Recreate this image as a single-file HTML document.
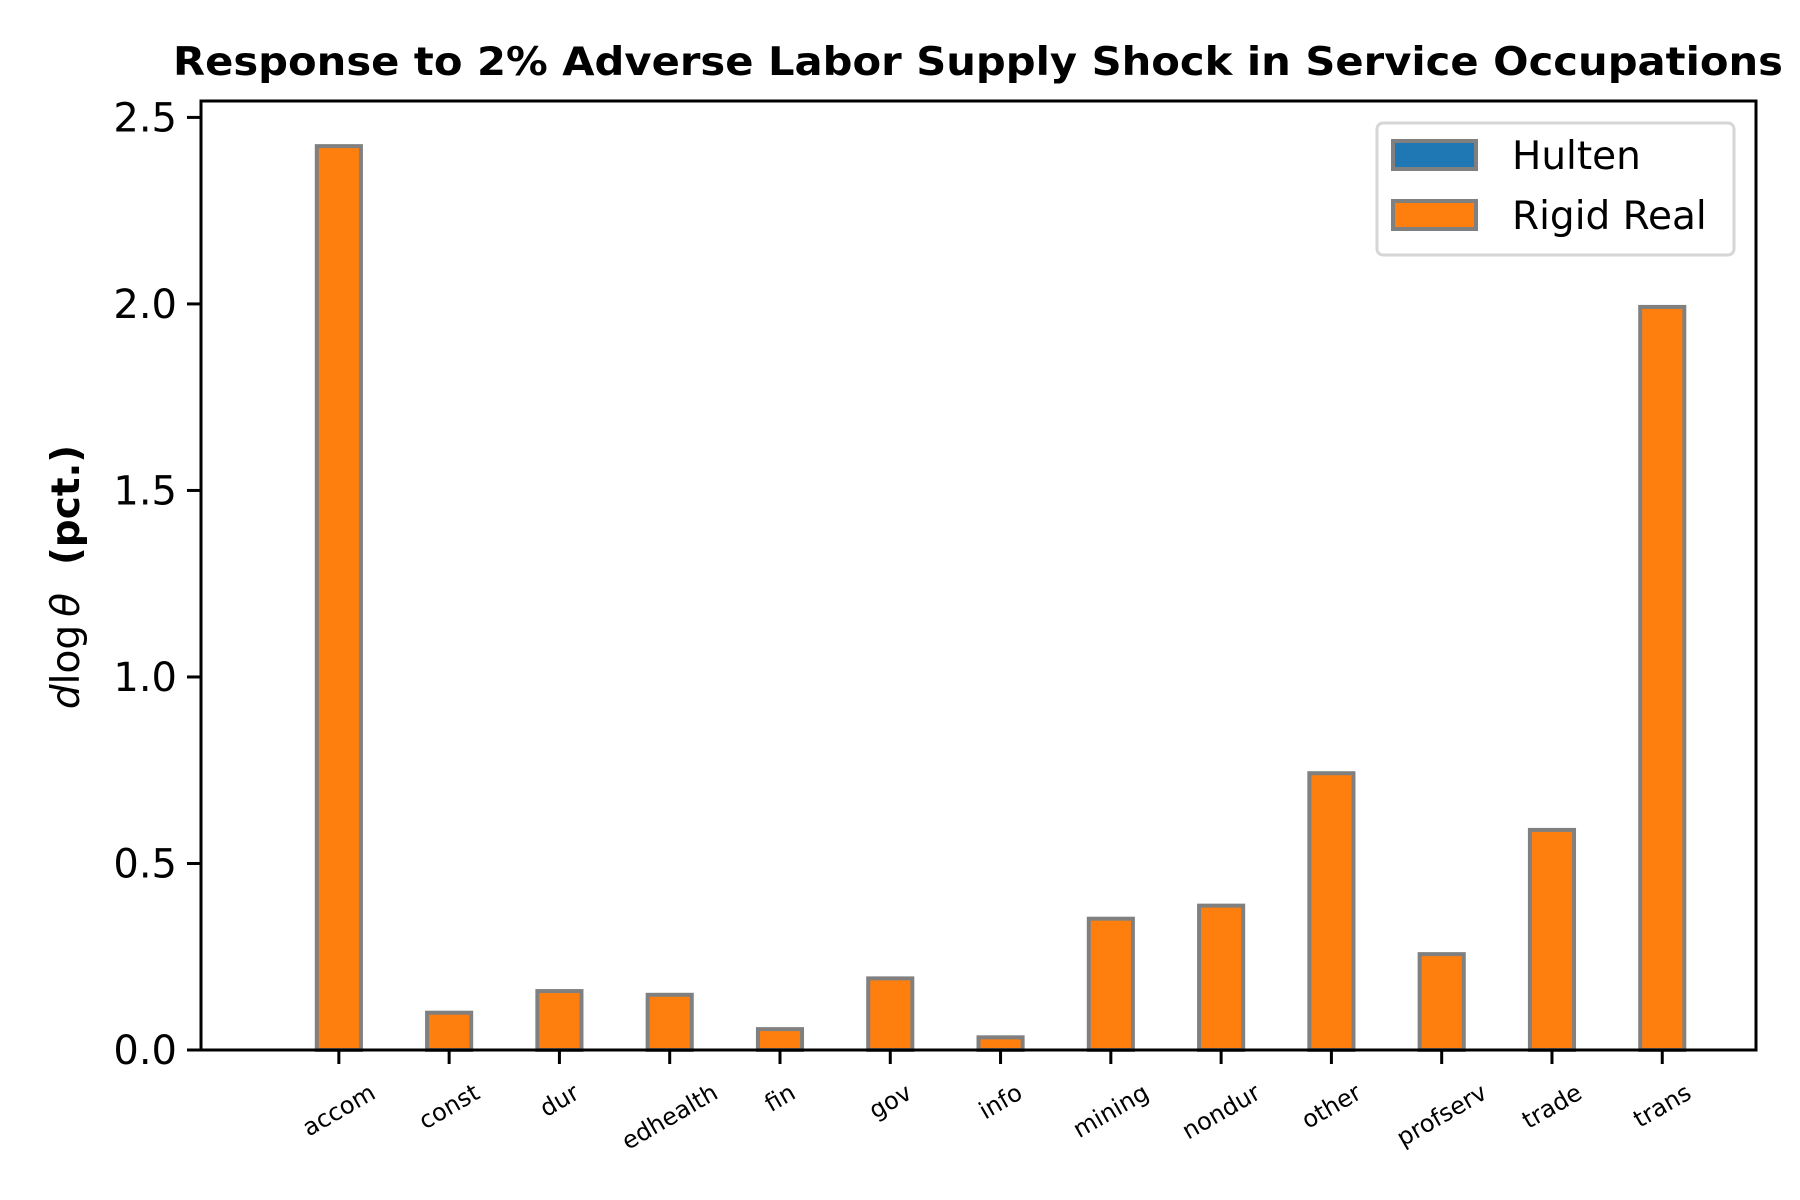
<!DOCTYPE html>
<html><head><meta charset="utf-8"><style>
html,body{margin:0;padding:0;background:#fff}
svg{display:block}
text{font-family:"DejaVu Sans","Liberation Sans",sans-serif}
</style></head><body>
<svg id="chart" width="1800" height="1200" xmlns="http://www.w3.org/2000/svg">
<text x="978" y="75" text-anchor="middle" font-size="39" font-weight="bold" textLength="1610" lengthAdjust="spacingAndGlyphs">Response to 2% Adverse Labor Supply Shock in Service Occupations</text>
<g id="plot"></g>
<text transform="translate(79,577) rotate(-90)" text-anchor="middle" font-size="39"><tspan font-style="italic">d</tspan>log<tspan dx="8" font-style="italic">θ</tspan><tspan dx="28" font-weight="bold">(pct.)</tspan></text>
<g>
<rect x="1377" y="123" width="357" height="132" rx="6" fill="#fff" stroke="#d6d6d6" stroke-width="3"/>
<rect x="1393" y="141" width="83" height="28" fill="#1f77b4" stroke="#808080" stroke-width="4"/>
<text x="1512" y="169" font-size="39">Hulten</text>
<rect x="1393" y="201" width="83" height="28" fill="#ff7f0e" stroke="#808080" stroke-width="4"/>
<text x="1512" y="229" font-size="39">Rigid Real</text>
</g>
</svg>
<script>
const categories = ["accom","const","dur","edhealth","fin","gov","info","mining","nondur","other","profserv","trade","trans"];
const hultenValues = [0,0,0,0,0,0,0,0,0,0,0,0,0];
const rigidRealValues = [2.423,0.10,0.158,0.148,0.056,0.192,0.034,0.352,0.387,0.742,0.257,0.59,1.992];
const yTickValues = [0,0.5,1.0,1.5,2.0,2.5];
const yTickLabels = ["0.0","0.5","1.0","1.5","2.0","2.5"];

const NS = "http://www.w3.org/2000/svg";
const L = 201, R = 1756, T = 101, B = 1050;
const xMin = -1.25, xMax = 12.85;
const yMax = 2.544;
function xs(v){ return L + (v - xMin) / (xMax - xMin) * (R - L); }
function ys(v){ return B - v / yMax * (B - T); }
const g = document.getElementById('plot');
function mk(tag, attrs){ const e = document.createElementNS(NS, tag); for (const k in attrs) e.setAttribute(k, attrs[k]); g.appendChild(e); return e; }
categories.forEach((c, i) => {
  const h = hultenValues[i];
  const hb = mk('rect', {x: xs(i - 0.6), y: ys(h), width: xs(i - 0.2) - xs(i - 0.6), height: Math.max(0, ys(0) - ys(h)), fill: '#1f77b4', stroke: '#808080', 'stroke-width': 4});
  
  
  const r = rigidRealValues[i];
  const rb = mk('rect', {x: xs(i - 0.2), y: ys(r), width: xs(i + 0.2) - xs(i - 0.2), height: ys(0) - ys(r), fill: '#ff7f0e', stroke: '#808080', 'stroke-width': 4});
  
  
  const tk = mk('line', {x1: xs(i), x2: xs(i), y1: B, y2: B + 14, stroke: '#000', 'stroke-width': 3});
  
  
  const t = mk('text', {x: 0, y: 0, 'text-anchor': 'middle', 'dominant-baseline': 'central', 'font-size': 24});
  t.textContent = c;
  
  
  const len = t.getComputedTextLength();
  const half = len / 2 * Math.sin(Math.PI / 6) + 12 * Math.cos(Math.PI / 6);
  t.setAttribute('transform', 'translate(' + xs(i) + ',' + (1080 + half) + ') rotate(-30)');
});
yTickValues.forEach((v, i) => {
  const tk = mk('line', {x1: L - 14, x2: L, y1: ys(v), y2: ys(v), stroke: '#000', 'stroke-width': 3});
  
  
  const t = mk('text', {x: L - 24, y: ys(v) + 14, 'text-anchor': 'end', 'font-size': 40});
  t.textContent = yTickLabels[i];
  
  
});
const frame = mk('rect', {x: L, y: T, width: R - L, height: B - T, fill: 'none', stroke: '#000', 'stroke-width': 3});


</script>
</body></html>
